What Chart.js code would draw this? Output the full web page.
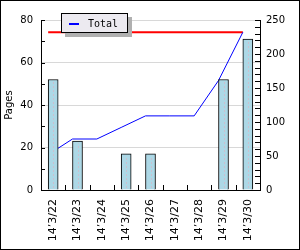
<!DOCTYPE html>
<html>
<head>
<meta charset="utf-8">
<script src="https://cdn.jsdelivr.net/npm/chart.js@4/dist/chart.umd.min.js"></script>
<style>
  html, body { margin: 0; padding: 0; background: #fff; }
  #wrap { width: 300px; height: 250px; }
</style>
</head>
<body>
<div id="wrap"><canvas id="pages_chart" width="300" height="250"></canvas></div>
<script>
// chart values
const days = ['14\u20193/22', '14\u20193/23', '14\u20193/24', '14\u20193/25', '14\u20193/26',
              '14\u20193/27', '14\u20193/28', '14\u20193/29', '14\u20193/30'];
const pagesPerDay = [52, 23, 0, 17, 17, 0, 0, 52, 71];
const totalPages = [52, 75, 75, 92, 109, 109, 109, 161, 232];
const targetPages = [232, 232, 232, 232, 232, 232, 232, 232, 232];
const leftTickStep = 20;
const rightTickStep = 50;

const BAR_W = 10;

// little tick marks that point into the plot, plus the outer frame
const axisMarks = {
    id: 'axisMarks',
    afterDraw(chart) {
        const ctx = chart.ctx;
        const a = chart.chartArea;
        const yl = chart.scales.y;
        const yr = chart.scales.y2;
        const x = chart.scales.x;
        ctx.save();
        ctx.strokeStyle = '#000';
        ctx.lineWidth = 1;
        ctx.beginPath();
        for (let v = yl.min; v <= yl.max; v += 10) {
            const py = Math.round(yl.getPixelForValue(v)) + 0.5;
            ctx.moveTo(a.left, py); ctx.lineTo(a.left + 4, py);
        }
        for (let v = yr.min; v <= yr.max; v += 10) {
            const py = Math.round(yr.getPixelForValue(v)) + 0.5;
            ctx.moveTo(a.right - 5, py); ctx.lineTo(a.right, py);
        }
        for (let i = 1; i < days.length; i++) {
            const px = Math.round((x.getPixelForValue(i - 1) + x.getPixelForValue(i)) / 2) + 0.5;
            ctx.moveTo(px, a.bottom); ctx.lineTo(px, a.bottom - 5);
        }
        ctx.stroke();
        ctx.strokeRect(0.5, 0.5, chart.width - 1, chart.height - 1);
        ctx.restore();
    }
};

// dotted line down the middle of every bar
const barDots = {
    id: 'barDots',
    afterDatasetDraw(chart, args) {
        if (args.index !== 0) return;
        const ctx = chart.ctx;
        ctx.save();
        ctx.strokeStyle = '#e8a8b8';
        ctx.lineWidth = 1;
        ctx.setLineDash([1, 3]);
        args.meta.data.forEach(function (bar, i) {
            if (!pagesPerDay[i]) return;
            const px = Math.round(bar.x) + 0.5;
            ctx.beginPath();
            ctx.moveTo(px, bar.base - 2);
            ctx.lineTo(px, bar.y + 2);
            ctx.stroke();
        });
        ctx.restore();
    }
};

// lines sit on the left edge of the bars in the original
const lineShift = {
    id: 'lineShift',
    beforeDatasetDraw(chart, args) {
        if (chart.data.datasets[args.index].type === 'line') {
            chart.ctx.save();
            chart.ctx.translate(-BAR_W / 2, 0);
        }
    },
    afterDatasetDraw(chart, args) {
        if (chart.data.datasets[args.index].type === 'line') {
            chart.ctx.restore();
        }
    }
};

// boxed legend with drop shadow
const boxLegend = {
    id: 'boxLegend',
    afterDraw(chart) {
        const ctx = chart.ctx;
        const ds = chart.data.datasets[1];
        const bx = 61, by = 13, bw = 67, bh = 20;
        ctx.save();
        ctx.fillStyle = '#b0b0b0';
        ctx.fillRect(bx + 4, by + 4, bw, bh);
        ctx.fillStyle = '#eceaf0';
        ctx.fillRect(bx, by, bw, bh);
        ctx.strokeStyle = '#000';
        ctx.lineWidth = 1;
        ctx.strokeRect(bx + 0.5, by + 0.5, bw - 1, bh - 1);
        ctx.strokeStyle = ds.borderColor;
        ctx.lineWidth = 2;
        ctx.beginPath();
        ctx.moveTo(bx + 8, by + 11);
        ctx.lineTo(bx + 18, by + 11);
        ctx.stroke();
        ctx.fillStyle = '#000';
        ctx.font = '10px "DejaVu Sans Mono"';
        ctx.textBaseline = 'middle';
        ctx.fillText(ds.label, bx + 27, by + 11);
        ctx.restore();
    }
};

Chart.defaults.font.family = '"DejaVu Sans", sans-serif';
Chart.defaults.font.size = 10;
Chart.defaults.color = '#000';

const ctx = document.getElementById('pages_chart').getContext('2d');
const pages_chart = new Chart(ctx, {
    type: 'bar',
    data: {
        labels: days,
        datasets: [{
            type: 'bar',
            label: 'Pages',
            data: pagesPerDay,
            yAxisID: 'y',
            backgroundColor: '#add8e6',
            borderColor: '#000',
            borderWidth: 1,
            barThickness: BAR_W,
            order: 0
        }, {
            type: 'line',
            label: 'Total',
            data: totalPages,
            yAxisID: 'y2',
            borderColor: '#0000ff',
            borderWidth: 1,
            pointRadius: 0,
            tension: 0,
            fill: false,
            order: 1
        }, {
            type: 'line',
            label: 'Target',
            data: targetPages,
            yAxisID: 'y2',
            borderColor: '#ff0000',
            borderWidth: 2,
            pointRadius: 0,
            fill: false,
            order: 2
        }]
    },
    options: {
        responsive: false,
        animation: false,
        layout: { padding: { top: 20, left: 0, right: 0, bottom: 0 } },
        plugins: {
            legend: { display: false },
            tooltip: { enabled: false }
        },
        scales: {
            x: {
                grid: { display: false, drawTicks: false },
                border: { display: true, color: '#000' },
                ticks: { minRotation: 90, maxRotation: 90, autoSkip: false, padding: 9, font: { size: 11 } },
                afterFit(scale) { scale.height = 60; }
            },
            y: {
                position: 'left',
                min: 0,
                max: 80,
                grid: { color: '#d8d8d8', drawTicks: false },
                border: { display: true, color: '#000' },
                ticks: { stepSize: leftTickStep, padding: 8 },
                title: { display: true, text: 'Pages', padding: { top: 3, bottom: 0 } },
                afterFit(scale) { scale.width = 41; }
            },
            y2: {
                position: 'right',
                min: 0,
                max: 250,
                grid: { drawOnChartArea: false, drawTicks: false },
                border: { display: true, color: '#000' },
                ticks: { stepSize: rightTickStep, padding: 6 },
                afterFit(scale) { scale.width = 40; }
            }
        }
    },
    plugins: [lineShift, barDots, axisMarks, boxLegend]
});
</script>
</body>
</html>
